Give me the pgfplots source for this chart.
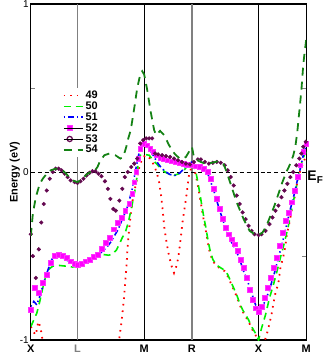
\documentclass[border=0pt]{standalone}
\usepackage{pgfplots}
\pgfplotsset{compat=1.18}
\usepackage{fontspec}
\setmainfont{Liberation Sans}

\definecolor{c49}{RGB}{255,0,0}
\definecolor{c50}{RGB}{0,240,0}
\definecolor{c51}{RGB}{0,0,255}
\definecolor{c52}{RGB}{255,0,255}
\definecolor{c53}{RGB}{100,8,80}
\definecolor{c54}{RGB}{20,130,20}

\pgfplotsset{
  lineleg/.style={legend image code/.code={\draw[##1] (0pt,0pt) -- (12pt,0pt); \path (0pt,0pt) -- (19pt,0pt);}},
  squareleg/.style={legend image code/.code={\draw[##1] plot coordinates {(6pt,0pt)}; \path (0pt,0pt) -- (19pt,0pt);}},
  circleg/.style={legend image code/.code={\draw[##1, mark options={fill=white, draw=c53, line width=1.3pt}, mark size=2.6pt] plot coordinates {(6pt,0pt)}; \path (0pt,0pt) -- (19pt,0pt);}},
}

\begin{document}
\begin{tikzpicture}
\begin{axis}[
    name=ax,
    scale only axis,
    width=277pt, height=338pt,
    xmin=0, xmax=277, ymin=-1, ymax=1,
    clip mode=individual,
    axis line style={line width=1.3pt},
    xtick={0,47,114,162,229,277},
    xticklabels={X,{\color{gray}L},M,R,X,M},
    xtick style={draw=none},
    xticklabel style={font=\bfseries\fontsize{11}{11}\selectfont, inner sep=0pt, yshift=-4.5pt},
    ytick={-1,0,1}, yticklabels={-1,0,1},
    minor ytick={-0.5,0.5},
    tick align=inside,
    major tick length=4pt, minor tick length=4pt,
    ytick style={line width=0.6pt},
    yticklabel style={font=\fontsize{10}{10}\selectfont, inner sep=1pt, xshift=-1pt},
    ylabel={Energy (eV)},
    ylabel style={font=\bfseries\fontsize{11}{11}\selectfont,
        at={(axis description cs:-0.058,0.5)}, anchor=center},
    legend style={at={(0.112,0.751)}, anchor=north west, draw=none, fill=white,
        font=\bfseries\fontsize{11}{11}\selectfont, row sep=-2.2pt,
        inner sep=1pt},
    legend cell align=left,
    lineleg,
]
% path lines and Fermi level
\addplot[gray, line width=0.8pt, forget plot] coordinates {(47,-1) (47,1)};
\addplot[black, line width=0.8pt, forget plot] coordinates {(114,-1) (114,1)};
\addplot[gray, line width=1.6pt, forget plot] coordinates {(162,-1) (162,1)};
\addplot[black, line width=0.8pt, forget plot] coordinates {(229,-1) (229,1)};
\addplot[black, line width=0.8pt, dash pattern=on 4pt off 3pt, forget plot] coordinates {(0,0) (277,0)};

% band 49
\addplot[c49, line width=1.8pt, dash pattern=on 1.6pt off 5pt] coordinates {
(0,-0.92) (2.5,-0.95) (5,-0.97) (7.5,-0.89) (9.5,-0.92) (11,-0.97) (13,-1.05) (15,-1.2)};
\addlegendentry{49}
\addplot[c49, line width=1.8pt, dash pattern=on 1.6pt off 5pt, forget plot] coordinates {
(86,-1.3) (89,-0.99) (91,-0.90) (92.5,-0.82) (94,-0.73) (95,-0.65) (96,-0.58) (97,-0.48)
(98,-0.40) (99,-0.33) (100.5,-0.25) (102,-0.18) (104,-0.12) (106,-0.06) (108,0.0)
(110,0.05) (113,0.09) (116,0.10) (120,0.08) (124,0.04) (127,-0.01) (129,-0.06)
(131,-0.14) (132.5,-0.22) (134,-0.32) (136,-0.40) (138,-0.47) (141,-0.55) (144,-0.60)
(147,-0.55) (149,-0.48) (151,-0.38) (152.5,-0.30) (154,-0.24) (156,-0.16) (157.5,-0.09)
(159,-0.02) (162,0.04) (164,0.02) (166,-0.02) (168,-0.08) (170,-0.15) (172,-0.22)
(174,-0.29) (176,-0.35) (178,-0.42) (180,-0.48) (183,-0.53) (187,-0.56) (191,-0.575)
(195,-0.59) (198,-0.62) (201,-0.66) (204,-0.70) (207,-0.74) (210,-0.79) (213,-0.83)
(216,-0.86) (219,-0.89) (222,-0.93) (226,-0.97) (229,-1.02) (233,-1.03) (236,-0.99)
(238,-0.95) (240,-0.90) (242,-0.85) (244,-0.78) (246,-0.72) (249,-0.66) (251,-0.57)
(254,-0.50) (256,-0.44) (257.5,-0.37) (260.5,-0.29) (262.5,-0.22) (265,-0.16)
(267,-0.09) (269,-0.03) (271,0.01) (273,0.04) (275,0.07) (277,0.10)};

% band 50
\addplot[c50, line width=1.6pt, dash pattern=on 7pt off 5pt] coordinates {
(0,-0.92) (3,-0.88) (6,-0.84) (9,-0.77) (12,-0.69) (15,-0.62) (18,-0.58) (22,-0.56)
(27,-0.555) (35,-0.56) (42,-0.565) (47,-0.56) (52,-0.54) (58,-0.52) (65,-0.50)
(72,-0.49) (78,-0.495) (82,-0.49) (86,-0.465) (89,-0.43) (92,-0.39) (95,-0.36)
(98,-0.30) (101,-0.22) (103,-0.16) (105,-0.10) (107,-0.02) (108,0.06) (110,0.10)
(114,0.105) (119,0.10) (123,0.07) (127,0.045) (131,0.02) (135,0.0) (140,-0.015)
(144,-0.02) (149,-0.01) (154,0.01) (158,0.04) (162,0.06) (164,0.04) (166,0.0)
(168,-0.06) (170,-0.13) (172,-0.20) (174,-0.27) (176,-0.33) (178,-0.40) (180,-0.46)
(183,-0.52) (187,-0.555) (191,-0.57) (195,-0.585) (198,-0.61) (201,-0.65) (204,-0.69)
(207,-0.73) (210,-0.78) (213,-0.82) (216,-0.85) (219,-0.88) (222,-0.92) (226,-0.96)
(229,-1.0) (232,-0.93) (236,-0.85) (240,-0.75) (244,-0.67) (248,-0.58) (251,-0.51)
(255,-0.42) (259,-0.32) (262,-0.23) (266,-0.12) (269,-0.03) (272,0.05) (275,0.10) (277,0.12)};
\addlegendentry{50}

% band 51
\addplot[c51, line width=1.6pt, dash pattern=on 1.4pt off 3pt on 6pt off 3pt] coordinates {
(0,-0.80) (3,-0.77) (6,-0.79) (9,-0.74) (12,-0.68) (15,-0.62) (18,-0.57) (21,-0.52)
(25,-0.50) (30,-0.50) (35,-0.52) (40,-0.54) (47,-0.56) (53,-0.55) (58,-0.53)
(62,-0.515) (67,-0.50) (72,-0.47) (76,-0.45) (80,-0.42) (84,-0.38) (88,-0.34)
(92,-0.28) (96,-0.23) (99,-0.17) (102,-0.10) (104,-0.03) (106,0.03) (108,0.09)
(110,0.14) (113,0.165) (116,0.16) (119,0.14) (122,0.11) (125,0.08) (128,0.05)
(132,0.02) (136,0.0) (140,-0.015) (145,-0.02) (150,-0.005) (155,0.025) (159,0.05)
(162,0.06) (165,0.045) (170,0.03) (175,0.02) (178,-0.01) (181,-0.06) (184,-0.11)
(187,-0.17) (190,-0.23) (194,-0.30) (198,-0.36) (202,-0.42) (206,-0.46) (210,-0.52)
(214,-0.59) (218,-0.65) (222,-0.72) (226,-0.79) (229,-0.83) (233,-0.80) (237,-0.75)
(241,-0.68) (245,-0.60) (249,-0.51) (253,-0.42) (257,-0.32) (261,-0.22) (265,-0.13)
(268,-0.05) (271,0.02) (274,0.10) (277,0.16)};
\addlegendentry{51}

% band 52
\addplot[only marks, mark=square*, mark size=2.4pt, mark options={fill=c52, draw=c52!80!white}, squareleg] coordinates {
(0,-0.82) (4,-0.69) (8,-0.72) (12,-0.66) (16,-0.61) (20,-0.54) (24,-0.50) (28,-0.49)
(32,-0.50) (36,-0.51) (40,-0.53) (44,-0.545) (47,-0.55) (51,-0.545) (55,-0.53)
(59,-0.52) (63,-0.505) (67,-0.49) (71,-0.455) (75,-0.42) (79,-0.39) (83,-0.34)
(87,-0.30) (91,-0.27) (95,-0.23) (99,-0.19) (102,-0.13) (104,-0.06) (106,0.0)
(108,0.08) (110,0.14) (112,0.165) (114,0.17) (117,0.16) (120,0.14) (123,0.12)
(126,0.10) (130,0.085) (134,0.08) (138,0.07) (142,0.065) (146,0.06) (150,0.055)
(154,0.05) (158,0.045) (162,0.04) (166,0.035) (170,0.03) (174,0.02) (178,0.0)
(181,-0.04) (184,-0.10) (187,-0.16) (190,-0.22) (193,-0.28) (196,-0.33) (199,-0.37)
(202,-0.40) (205,-0.43) (208,-0.47) (211,-0.52) (214,-0.57) (217,-0.63) (220,-0.70)
(223,-0.76) (226,-0.81) (229,-0.83) (232,-0.80) (235,-0.75) (238,-0.69) (241,-0.63)
(244,-0.57) (247,-0.51) (250,-0.44) (253,-0.36) (256,-0.29) (259,-0.24) (262,-0.18)
(265,-0.11) (268,-0.03) (271,0.04) (274,0.12) (277,0.17)};
\addlegendentry{52}

% band 53
\addplot[only marks, mark=*, mark size=1.9pt, mark options={fill=c53, draw=c53}, circleg] coordinates {
(0,-0.37) (2,-0.50) (5,-0.63) (8,-0.46) (10.5,-0.30) (13,-0.19) (16,-0.11) (19,-0.04)
(22,0.0) (25,0.02) (28,0.02) (31,0.01) (34,-0.01) (37,-0.03) (40,-0.05) (44,-0.06)
(47,-0.065) (50,-0.055) (53,-0.04) (56,-0.02) (59,-0.005) (62,0.005) (65,0.005)
(68,-0.01) (71,-0.025) (74.5,-0.055) (77.5,-0.10) (80,-0.16) (83,-0.22) (85.5,-0.23)
(89,-0.17) (92,-0.10) (94.5,-0.03) (97.5,0.0) (101,0.03) (104,0.05) (107,0.08)
(110,0.17) (113,0.19) (116,0.20) (119,0.20) (122,0.20) (125,0.11) (128,0.105)
(132,0.10) (136,0.095) (140,0.09) (144,0.08) (148,0.07) (152,0.06) (156,0.05)
(160,0.045) (164,0.06) (168,0.075) (171,0.075) (175,0.06) (179,0.05) (183,0.055)
(187,0.06) (191,0.055) (195,0.04) (198,0.01) (201,-0.03) (204,-0.08) (207,-0.14)
(210,-0.19) (213,-0.24) (216,-0.28) (219,-0.32) (222,-0.35) (225,-0.37) (229,-0.375)
(232,-0.37) (236,-0.35) (240,-0.31) (243,-0.27) (246,-0.23) (249,-0.20) (252,-0.15)
(255,-0.11) (258,-0.07) (261,-0.03) (264,0.0) (267,0.04) (270,0.08) (272,0.11)
(274,0.15) (276.5,0.18)};
\addlegendentry{53}

% band 54
\addplot[c54, line width=1.8pt, dash pattern=on 8pt off 6pt] coordinates {
(0,-0.38) (2,-0.25) (5,-0.15) (9,-0.07) (12,-0.04) (16,-0.01) (20,0.01) (25,0.02)
(29,0.02) (33,0.005) (37,-0.02) (42,-0.05) (47,-0.06) (52,-0.04) (56,-0.015) (60,0.0)
(64,0.005) (67,0.03) (70,0.07) (74,0.10) (79,0.11) (85,0.10) (90,0.08) (93,0.09)
(96,0.15) (98,0.20) (100.5,0.25) (104,0.38) (107,0.50) (110,0.58) (112,0.60)
(114,0.58) (117,0.49) (120.5,0.36) (124,0.25) (126,0.22) (130,0.245) (134,0.22)
(139,0.16) (143,0.12) (146,0.10) (150,0.08) (153,0.08) (156,0.09) (159,0.12)
(162,0.15) (164,0.09) (169,0.065) (175,0.05) (182,0.055) (189,0.065) (194,0.045)
(197,0.0) (202,-0.09) (207,-0.18) (214,-0.28) (220,-0.35) (225,-0.37) (229,-0.375)
(233,-0.36) (237,-0.32) (241,-0.26) (245,-0.20) (249,-0.13) (253,-0.06) (257,0.0)
(261,0.05) (264,0.10) (266,0.15) (268,0.24) (270,0.36) (272,0.48) (274,0.64)
(275.5,0.72) (277,0.79)};
\addlegendentry{54}

\node[anchor=west, font=\bfseries\fontsize{14}{14}\selectfont, inner sep=1pt]
    at (axis cs:277,-0.03) {E\raisebox{-0.35ex}{\fontsize{10}{10}\selectfont F}};
\end{axis}
\pgfresetboundingbox
\path ([shift={(-31pt,-14pt)}]ax.south west) rectangle ([shift={(20pt,4pt)}]ax.north east);
\end{tikzpicture}
\end{document}
